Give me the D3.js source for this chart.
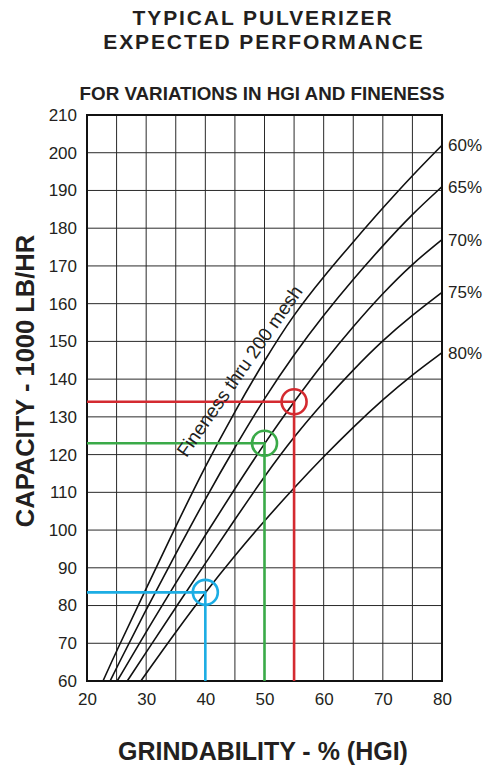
<!DOCTYPE html>
<html>
<head>
<meta charset="utf-8">
<script src="https://cdn.jsdelivr.net/npm/d3@7"></script>
<style>
  body { margin: 0; background: #fff; }
  text { font-family: "Liberation Sans", Arial, sans-serif; fill: #231f20; }
</style>
</head>
<body>
<svg id="chart" width="485" height="765"></svg>
<script>
// axis labels
const hgiLabels = [20, 30, 40, 50, 60, 70, 80]
const capLabels = [60, 70, 80, 90, 100, 110, 120, 130, 140, 150, 160, 170, 180, 190, 200, 210]

// curves: [HGI, capacity in 1000 lb/hr]
const fineness = ['60%', '65%', '70%', '75%', '80%']
const fine60 = [[22.7, 60], [25, 68], [30, 84.5], [35, 101], [40, 117], [45, 131.5], [50, 145], [55, 157.3], [60, 167.2], [65, 176.4], [70, 185.4], [75, 194], [80, 202]]
const fine65 = [[23.9, 60], [25, 63.5], [30, 79], [35, 93.7], [40, 108.3], [45, 122], [50, 135], [55, 146.6], [60, 157], [65, 166.5], [70, 175.4], [75, 183.8], [80, 191]]
const fine70 = [[25.1, 60], [30, 73], [35, 86], [40, 98.7], [45, 111], [50, 123], [55, 134], [60, 144.5], [65, 154], [70, 162.8], [75, 170.6], [80, 177]]
const fine75 = [[26.8, 60], [30, 67.6], [35, 79.5], [40, 91.2], [45, 102.8], [50, 114.3], [55, 124.8], [60, 134], [65, 142.5], [70, 150.3], [75, 157], [80, 163]]
const fine80 = [[29.1, 60], [30, 62], [35, 73], [40, 83.5], [45, 93.3], [50, 102.5], [55, 111.2], [60, 119.5], [65, 127.3], [70, 134.6], [75, 141.2], [80, 147]]
const curves = [fine60, fine65, fine70, fine75, fine80]

// worked examples
const guideHgi = [40, 50, 55]
const guideCap = [83.5, 123, 134]
const guideColors = ['#1cade4', '#3aaa48', '#d42a30']

const svg = d3.select('#chart')
const x = d3.scaleLinear().domain([20, 80]).range([87, 442])
const y = d3.scaleLinear().domain([60, 210]).range([681, 115])

// grid
const grid = svg.append('g').attr('stroke', '#2a2a2a').attr('stroke-width', 1)
grid.selectAll('.vg').data(x.ticks(12)).enter().append('line')
  .attr('x1', d => x(d)).attr('x2', d => x(d))
  .attr('y1', y(60)).attr('y2', y(210))
grid.selectAll('.hg').data(y.ticks(15)).enter().append('line')
  .attr('y1', d => y(d)).attr('y2', d => y(d))
  .attr('x1', x(20)).attr('x2', x(80))

svg.append('rect')
  .attr('x', x(20)).attr('y', y(210))
  .attr('width', x(80) - x(20)).attr('height', y(60) - y(210))
  .attr('fill', 'none').attr('stroke', '#111').attr('stroke-width', 2)

// curves
const line = d3.line()
  .x(d => x(d[0]))
  .y(d => y(d[1]))
  .curve(d3.curveBasis)

svg.append('g').selectAll('path').data(curves).enter().append('path')
  .attr('d', line)
  .attr('fill', 'none')
  .attr('stroke', '#111')
  .attr('stroke-width', 1.6)

// guide lines + circles
const guides = svg.append('g').selectAll('g').data(guideHgi).enter().append('g')
  .attr('stroke', (d, i) => guideColors[i])
  .attr('stroke-width', 2.6)
  .attr('fill', 'none')
guides.append('path')
  .attr('d', (d, i) => `M${x(20)},${y(guideCap[i])}H${x(d)}V${y(60)}`)
guides.append('circle')
  .attr('cx', d => x(d))
  .attr('cy', (d, i) => y(guideCap[i]))
  .attr('r', 12.5)

// fineness labels at curve ends
svg.append('g').selectAll('text').data(curves).enter().append('text')
  .attr('x', 448)
  .attr('y', d => y(d[d.length - 1][1]))
  .attr('dy', '0.36em')
  .attr('font-size', 17)
  .text((d, i) => fineness[i])

svg.append('text')
  .attr('transform', `translate(${x(36.8)},${y(119)}) rotate(-55)`)
  .attr('font-size', 19)
  .text('Fineness thru 200 mesh')

// axes
const xAxis = svg.append('g')
  .attr('transform', `translate(0,${y(60)})`)
  .call(d3.axisBottom(x).tickValues(hgiLabels).tickSize(0).tickPadding(12))
const yAxis = svg.append('g')
  .attr('transform', `translate(${x(20)},0)`)
  .call(d3.axisLeft(y).tickValues(capLabels).tickSize(0).tickPadding(10))
;[xAxis, yAxis].forEach(a => {
  a.select('.domain').remove()
  a.selectAll('text').attr('font-size', 17).attr('font-family', '"Liberation Sans", Arial, sans-serif').attr('fill', '#231f20')
})

// titles
svg.append('text').attr('x', 263).attr('y', 25).attr('text-anchor', 'middle')
  .attr('font-size', 21).attr('font-weight', 'bold').attr('letter-spacing', 1.9)
  .text('TYPICAL PULVERIZER')
svg.append('text').attr('x', 264).attr('y', 48.5).attr('text-anchor', 'middle')
  .attr('font-size', 21).attr('font-weight', 'bold').attr('letter-spacing', 1.9)
  .text('EXPECTED PERFORMANCE')

svg.append('text').attr('x', 262).attr('y', 100).attr('text-anchor', 'middle')
  .attr('font-size', 18.8).attr('font-weight', 'bold').text('FOR VARIATIONS IN HGI AND FINENESS')
svg.append('text').attr('x', 263).attr('y', 760).attr('text-anchor', 'middle')
  .attr('font-size', 25).attr('font-weight', 'bold').text('GRINDABILITY - % (HGI)')
svg.append('text').attr('transform', 'translate(34,381) rotate(-90)').attr('text-anchor', 'middle')
  .attr('font-size', 25.5).attr('font-weight', 'bold').text('CAPACITY - 1000 LB/HR')
</script>
</body>
</html>
